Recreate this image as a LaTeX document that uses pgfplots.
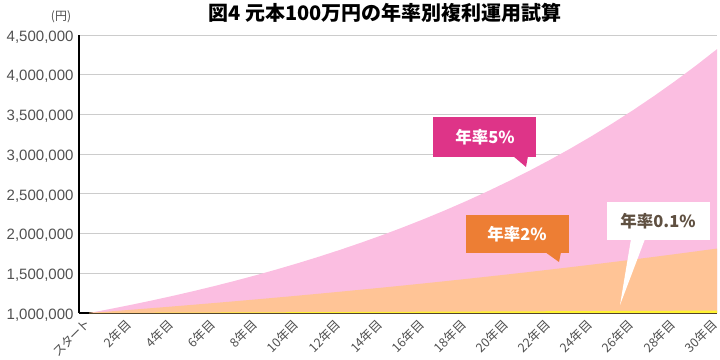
\documentclass[border=0pt]{standalone}
\usepackage{fontspec}
\setmainfont{Noto Sans CJK JP}
\newfontfamily\lat{Liberation Sans}
\newfontfamily\jpp[RawFeature=+palt]{Noto Sans CJK JP}
\usepackage{pgfplots}
\usepackage{pgfplotstable}
\pgfplotsset{compat=1.18}
\definecolor{pinkA}{RGB}{251,190,225}
\definecolor{orangeA}{RGB}{255,196,150}
\definecolor{yellowA}{RGB}{255,243,50}
\definecolor{magentaB}{RGB}{222,52,136}
\definecolor{orangeB}{RGB}{237,126,52}
\definecolor{brownT}{RGB}{95,80,65}
\definecolor{tickgray}{RGB}{80,80,80}
\pgfplotstableread{
year r5 r2 r01
0 1000000 1000000 1000000
1 1050000 1020000 1001000
2 1102500 1040400 1002001
3 1157625 1061208 1003003
4 1215506 1082432 1004006
5 1276282 1104081 1005010
6 1340096 1126162 1006015
7 1407100 1148686 1007021
8 1477455 1171659 1008028
9 1551328 1195093 1009036
10 1628895 1218994 1010045
11 1710339 1243374 1011056
12 1795856 1268242 1012067
13 1885649 1293607 1013078
14 1979932 1319479 1014091
15 2078928 1345868 1015105
16 2182875 1372786 1016121
17 2292018 1400241 1017137
18 2406619 1428246 1018154
19 2526950 1456811 1019172
20 2653298 1485947 1020191
21 2785963 1515666 1021211
22 2925261 1545980 1022233
23 3071524 1576899 1023255
24 3225100 1608437 1024278
25 3386355 1640606 1025302
26 3555673 1673418 1026328
27 3733456 1706886 1027354
28 3920129 1741024 1028381
29 4116136 1775845 1029410
30 4321942 1811362 1030439
}\data
\begin{document}
\begin{tikzpicture}[x=1pt,y=1pt]
\useasboundingbox (0,0) rectangle (720,359);
\begin{axis}[
  at={(79pt,46pt)}, anchor=south west,
  scale only axis, width=638pt, height=278pt,
  xmin=-0.48, xmax=30, ymin=1000000, ymax=4500000,
  axis x line=bottom, axis y line=left,
  axis line style={-, black, line width=1.2pt},
  ytick={1000000,1500000,...,4500000},
  scaled ticks=false,
  /pgf/number format/.cd, fixed, 1000 sep={,}, assume math mode=true,
  /pgfplots/.cd,
  yticklabel style={font=\lat\fontsize{15}{15}\selectfont, text=tickgray, xshift=-2pt, yshift=-2pt},
  xtick={0,2,...,30},
  xticklabels={スタート,2年目,4年目,6年目,8年目,10年目,12年目,14年目,16年目,18年目,20年目,22年目,24年目,26年目,28年目,30年目},
  xticklabel style={xshift=-6pt, yshift=-5pt, font=\jpp\fontsize{12.5}{12.5}\selectfont, text=tickgray, rotate=45, anchor=north east, inner sep=0pt},
  major tick length=0pt,
  ymajorgrids, major grid style={gray!40, line width=0.9pt},
  clip=true,
]
\addplot[fill=pinkA, draw=none] table[x=year,y=r5] {\data} \closedcycle;
\addplot[fill=orangeA, draw=none] table[x=year,y=r2] {\data} \closedcycle;
\addplot[fill=yellowA, draw=none] table[x=year,y=r01] {\data} \closedcycle;
\end{axis}
% title
\node[font=\bfseries\fontsize{20}{20}\selectfont, text=black] at (385,346) {図4 元本100万円の年率別複利運用試算};
\node[font=\fontsize{12}{12}\selectfont, text=tickgray] at (61,342) {(円)};
% callout 5%
\fill[magentaB] (433,202) rectangle (536,242);
\fill[magentaB] (513,203) -- (528,203) -- (526,192) -- cycle;
\node[font=\bfseries\fontsize{16.5}{16.5}\selectfont, text=white] at (485,222) {年率5\%};
% callout 2%
\fill[orangeB] (466,106) rectangle (569,144);
\fill[orangeB] (545,107) -- (561,107) -- (559,97) -- cycle;
\node[font=\bfseries\fontsize{16.5}{16.5}\selectfont, text=white] at (517,125) {年率2\%};
% callout 0.1%
\fill[white] (607,119) rectangle (710,157);
\fill[white] (631,120) -- (645,120) -- (620,54) -- cycle;
\node[font=\bfseries\fontsize{16.5}{16.5}\selectfont, text=brownT] at (658,138) {年率0.1\%};
\end{tikzpicture}
\end{document}
